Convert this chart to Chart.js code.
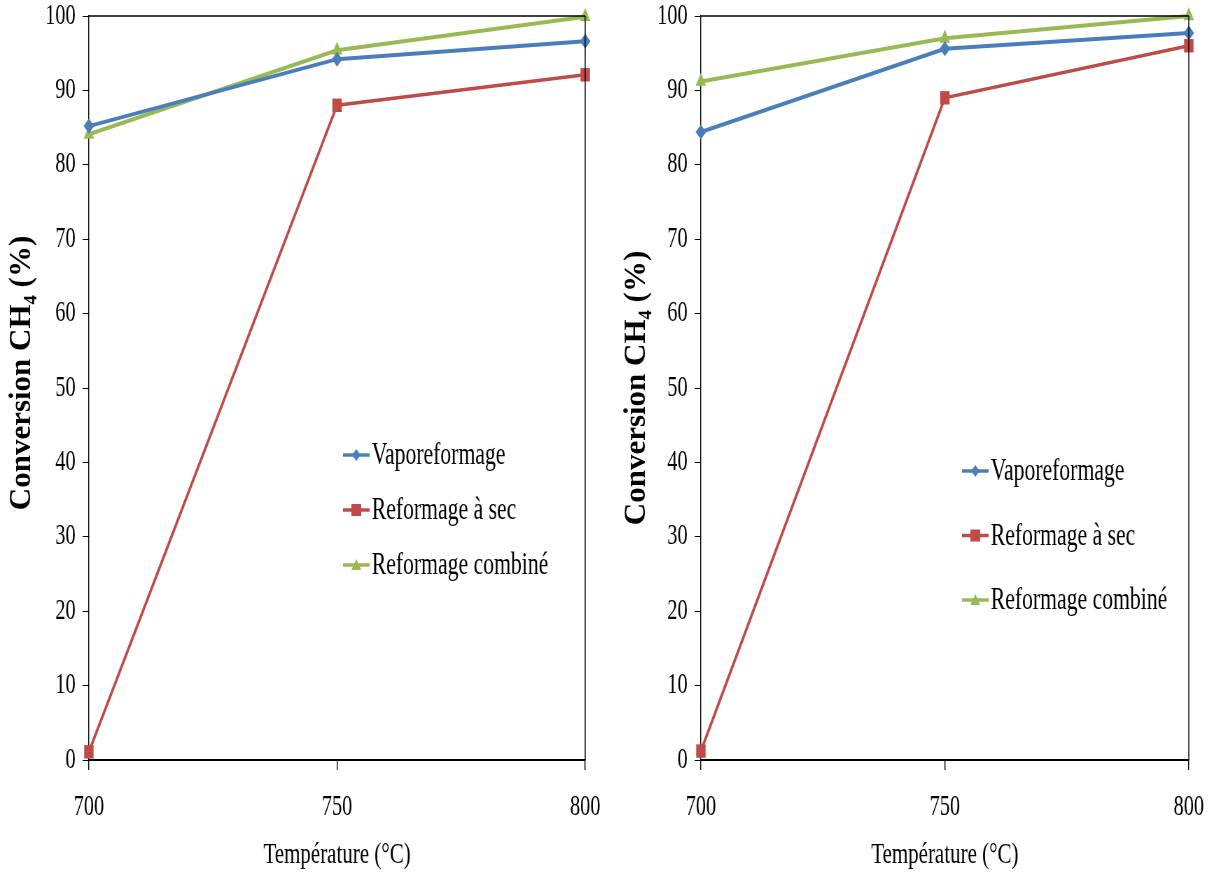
<!DOCTYPE html>
<html>
<head>
<meta charset="utf-8">
<script src="https://cdn.jsdelivr.net/npm/chart.js@4.4.0/dist/chart.umd.min.js"></script>
<style>
  body { margin: 0; background: #fff; overflow: hidden; }
  .squeeze { position: absolute; top: 0; transform: scaleX(0.7); transform-origin: 0 0; }
  #boxLeft { left: 0; }
  #boxRight { left: 605px; }
</style>
</head>
<body>
<!-- la figure d'origine est étirée horizontalement : on dessine large puis on compresse -->
<div class="squeeze" id="boxLeft"><canvas id="chartLeft" width="864" height="873"></canvas></div>
<div class="squeeze" id="boxRight"><canvas id="chartRight" width="866" height="873"></canvas></div>
<script>
const temperatures = [700, 750, 800];
const xTicks = [700, 750, 800];
const yTicks = [0, 10, 20, 30, 40, 50, 60, 70, 80, 90, 100];

const seriesNames = ['Vaporeformage', 'Reformage à sec', 'Reformage combiné'];
const yTitle = 'Conversion CH₄ (%)';

// graphique de gauche
const vapoLeft = [85.2, 94.2, 96.6];
const secLeft = [1.1, 88.0, 92.1];
const combLeft = [84.1, 95.4, 99.9];

// graphique de droite
const vapoRight = [84.4, 95.6, 97.7];
const secRight = [1.2, 89.0, 96.0];
const combRight = [91.2, 97.0, 100];

const colors = ['#4a7ebb', '#be4b48', '#98b954'];
const styles = ['rectRot', 'rect', 'triangle'];
const FONT = '"Liberation Serif", "Times New Roman", serif';
const SQUEEZE = 0.7;

function points(values) {
    return temperatures.map((t, i) => ({ x: t, y: values[i] }));
}

function makeDatasets(vapo, sec, comb) {
    return [vapo, sec, comb].map((vals, i) => ({
        label: seriesNames[i],
        data: points(vals),
        borderColor: colors[i],
        backgroundColor: colors[i],
        borderWidth: i === 1 ? 3.5 : 4,
        pointStyle: styles[i],
        pointRadius: [7.5, 9.5, 8.7][i],
        pointHoverRadius: [7.5, 9.5, 8.7][i],
        pointBorderWidth: 0,
        clip: false,
        tension: 0
    }));
}

// cadre (haut + droite), titre vertical non compressé et légende dans la zone de tracé
const framePlugin = {
    id: 'frame',
    afterDraw(chart, args, opts) {
        const ctx = chart.ctx;
        const a = chart.chartArea;
        ctx.save();
        ctx.strokeStyle = '#000';
        ctx.lineWidth = 1.5;
        ctx.beginPath();
        ctx.moveTo(a.left, a.top);
        ctx.lineTo(a.right, a.top);
        ctx.stroke();
        ctx.lineWidth = 1.4;
        ctx.beginPath();
        ctx.moveTo(a.right, a.top);
        ctx.lineTo(a.right, a.bottom);
        ctx.stroke();

        // titre de l'axe y
        ctx.save();
        ctx.translate(opts.titleX, opts.titleY);
        ctx.scale(1 / SQUEEZE, 1);
        ctx.rotate(-Math.PI / 2);
        ctx.font = 'bold 31px ' + FONT;
        ctx.fillStyle = '#000';
        ctx.textAlign = 'center';
        ctx.textBaseline = 'middle';
        ctx.fillText(yTitle, 0, 0);
        ctx.restore();

        // légende
        ctx.font = '31px ' + FONT;
        ctx.textBaseline = 'middle';
        chart.data.datasets.forEach((ds, i) => {
            const y = opts.y + i * opts.gap;
            const x = opts.x;
            ctx.strokeStyle = ds.borderColor;
            ctx.lineWidth = 3.5;
            ctx.beginPath();
            ctx.moveTo(x, y);
            ctx.lineTo(x + 38, y);
            ctx.stroke();
            ctx.fillStyle = ds.borderColor;
            const cx = x + 19;
            ctx.beginPath();
            if (ds.pointStyle === 'rectRot') {
                ctx.moveTo(cx, y - 6); ctx.lineTo(cx + 6, y);
                ctx.lineTo(cx, y + 6); ctx.lineTo(cx - 6, y);
            } else if (ds.pointStyle === 'rect') {
                ctx.rect(cx - 7, y - 6, 14, 12);
            } else {
                ctx.moveTo(cx, y - 6); ctx.lineTo(cx + 7, y + 5);
                ctx.lineTo(cx - 7, y + 5);
            }
            ctx.closePath();
            ctx.fill();
            ctx.fillStyle = '#000';
            ctx.fillText(ds.label, x + 41, y + 1);
        });
        ctx.restore();
    }
};

function makeChart(id, datasets, yWidth, padRight, frame) {
    return new Chart(document.getElementById(id), {
        type: 'line',
        data: { datasets: datasets },
        plugins: [framePlugin],
        options: {
            responsive: false,
            animation: false,
            layout: { padding: { top: 16, right: padRight, bottom: 0, left: 0 } },
            plugins: {
                legend: { display: false },
                tooltip: { enabled: false },
                frame: frame
            },
            scales: {
                x: {
                    type: 'linear',
                    min: 700,
                    max: 800,
                    afterBuildTicks: s => { s.ticks = xTicks.map(v => ({ value: v })); },
                    afterFit: s => { s.height = 113; s.paddingLeft = 0; s.paddingRight = 0; },
                    border: { color: '#000', width: 2 },
                    grid: { drawOnChartArea: false, color: '#000', lineWidth: 1.4, tickLength: 10 },
                    ticks: {
                        color: '#000',
                        padding: 20,
                        maxRotation: 0,
                        font: { family: FONT, size: 29 }
                    },
                    title: {
                        display: true,
                        text: 'Température (°C)',
                        color: '#000',
                        padding: { top: 0, bottom: 0 },
                        font: { family: FONT, size: 30 }
                    }
                },
                y: {
                    min: 0,
                    max: 100,
                    afterBuildTicks: s => { s.ticks = yTicks.map(v => ({ value: v })); },
                    afterFit: s => { s.width = yWidth; s.paddingTop = 0; s.paddingBottom = 0; },
                    border: { color: '#000', width: 1.4 },
                    grid: { drawOnChartArea: false, color: '#000', lineWidth: 1, tickLength: 9 },
                    ticks: {
                        color: '#000',
                        padding: 10,
                        font: { family: FONT, size: 29 }
                    }
                }
            }
        }
    });
}

makeChart('chartLeft', makeDatasets(vapoLeft, secLeft, combLeft), 127, 28,
    { x: 490, y: 455, gap: 55, titleX: 32, titleY: 373 });
makeChart('chartRight', makeDatasets(vapoRight, secRight, combRight), 137, 32,
    { x: 510, y: 471, gap: 64.5, titleX: 46, titleY: 388 });
</script>
</body>
</html>
